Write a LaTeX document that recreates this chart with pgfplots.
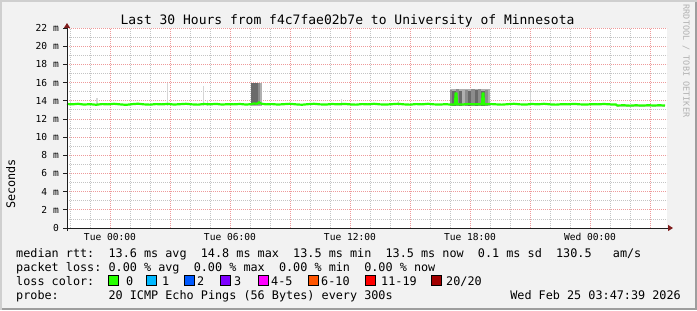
\documentclass[border=0pt]{standalone}
\usepackage{pgfplots}
\pgfplotsset{compat=1.18}
\usetikzlibrary{arrows.meta}
\usepackage{fontspec}
\setmainfont{DejaVu Sans Mono}
\definecolor{bgc}{HTML}{F2F2F2}
\definecolor{shadeA}{HTML}{CFCFCF}
\definecolor{shadeB}{HTML}{9E9E9E}
\definecolor{mgrid}{HTML}{EE9A9A}
\definecolor{mngrid}{HTML}{C4C4C4}
\definecolor{arrowc}{HTML}{801F1F}
\definecolor{axisc}{HTML}{1F1F1F}
\definecolor{rttgreen}{HTML}{26FF00}
\definecolor{smokeD}{HTML}{6A6A6A}
\definecolor{smokeM}{HTML}{8C8C8C}
\definecolor{smokeL}{HTML}{B0B0B0}
\definecolor{smokeXL}{HTML}{D6D6D6}
\definecolor{lc0}{HTML}{26FF00}
\definecolor{lc1}{HTML}{00B8FF}
\definecolor{lc2}{HTML}{0059FF}
\definecolor{lc3}{HTML}{7E00FF}
\definecolor{lc4}{HTML}{FF00FF}
\definecolor{lc6}{HTML}{FF5500}
\definecolor{lc11}{HTML}{FF0000}
\definecolor{lc20}{HTML}{A10000}
\newcommand\ticfont{\fontsize{9.6bp}{11bp}\selectfont}
\newcommand\legfont{\fontsize{11.8bp}{14bp}\selectfont}
\newcommand\titfont{\fontsize{13bp}{15bp}\selectfont}
\newcommand\smoke[5]{\addplot[fill=#1,draw=none,forget plot] coordinates {(#2,#4)(#2,#5)(#3,#5)(#3,#4)};}
\begin{document}
\begin{tikzpicture}[x=1bp,y=1bp]
\path[use as bounding box, fill=bgc] (0,0) rectangle (697,310);
\fill[shadeA] (0,0) rectangle (2,310);
\fill[shadeA] (0,308) rectangle (697,310);
\fill[shadeB] (695,0) rectangle (697,308);
\fill[shadeB] (2,0) rectangle (697,2);
\node[anchor=base, inner sep=0pt, font=\titfont] at (347.5,286) {Last 30 Hours from f4c7fae02b7e to University of Minnesota};
\node[anchor=base, inner sep=0pt, font=\legfont, rotate=90] at (15,126) {Seconds};
\node[anchor=center, inner sep=0pt, font=\fontsize{8.5bp}{10bp}\selectfont, text=black!30, rotate=-90] at (686,249) {RRDTOOL / TOBI OETIKER};
\begin{axis}[
  at={(67bp,82bp)}, anchor=south west, scale only axis,
  width=600bp, height=200bp,
  xmin=-2.15, xmax=27.85, ymin=0, ymax=22,
  clip=false,
  axis background/.style={fill=white},
  axis line style={draw=none},
  xtick={0,3,...,27},
  xticklabels={Tue 00:00,,Tue 06:00,,Tue 12:00,,Tue 18:00,,Wed 00:00,},
  minor xtick={-2,-1,1,2,4,5,7,8,10,11,13,14,16,17,19,20,22,23,25,26},
  ytick={0,2,...,22},
  yticklabels={0,2 m,4 m,6 m,8 m,10 m,12 m,14 m,16 m,18 m,20 m,22 m},
  minor ytick={1,3,...,21},
  grid=both,
  major grid style={mgrid, dash pattern=on 1bp off 1bp, line width=0.8bp},
  minor grid style={mngrid, dash pattern=on 1bp off 1bp, line width=0.8bp},
  xtick style={draw=none},
  minor tick style={draw=none},
  ytick style={axisc, line width=0.8bp},
  tick align=outside, ytick pos=left, major tick length=4bp,
  xticklabel style={font=\ticfont, anchor=base, inner sep=0pt, yshift=-8bp},
  yticklabel style={font=\ticfont, anchor=east, inner sep=0pt, xshift=-4bp},
]
% light smoke spikes
\smoke{smokeXL}{-2.02}{-1.97}{13.45}{14.2}
\smoke{smokeXL}{-0.68}{-0.62}{13.45}{14.25}
\smoke{smokeXL}{2.83}{2.88}{13.45}{16.0}
\smoke{smokeXL}{4.63}{4.68}{13.45}{15.65}
\smoke{smokeXL}{4.83}{4.9}{13.45}{14.1}
\smoke{smokeXL}{11.55}{11.6}{13.45}{14.15}
\smoke{smokeXL}{14.4}{14.45}{13.45}{14.0}
\smoke{smokeXL}{20.98}{21.03}{13.45}{15.2}
\smoke{smokeXL}{21.98}{22.03}{13.45}{14.3}
\smoke{smokeXL}{25.35}{27.75}{13.28}{13.55}
% block near 07:00
\smoke{smokeL}{7.03}{7.6}{13.45}{16.0}
\smoke{smokeD}{7.06}{7.42}{13.5}{15.95}
\smoke{smokeM}{7.42}{7.48}{13.5}{15.9}
% block 17:00 - 19:00
\smoke{smokeL}{17.0}{19.0}{13.45}{15.3}
\smoke{smokeM}{17.0}{17.1}{13.45}{15.2}
\smoke{smokeD}{17.1}{17.3}{13.45}{15.1}
\smoke{smokeM}{17.3}{17.45}{13.45}{15.25}
\smoke{smokeD}{17.45}{17.6}{13.45}{15.1}
\smoke{smokeM}{17.75}{17.9}{13.45}{15.2}
\smoke{smokeD}{17.9}{18.05}{13.45}{15.1}
\smoke{smokeM}{18.05}{18.25}{13.45}{15.25}
\smoke{smokeD}{18.25}{18.4}{13.45}{15.15}
\smoke{smokeM}{18.4}{18.55}{13.45}{15.25}
\smoke{smokeD}{18.55}{18.75}{13.45}{15.1}
\smoke{smokeM}{18.75}{18.9}{13.45}{15.2}
% median rtt
\addplot[rttgreen, line width=2.2bp, mark=none] coordinates {
(-2.15,13.64)(-1.9,13.6)(-1.6,13.66)(-1.3,13.58)(-1.0,13.62)(-0.7,13.56)(-0.4,13.63)(-0.1,13.6)
(0.2,13.66)(0.5,13.6)(0.8,13.55)(1.1,13.62)(1.4,13.67)(1.7,13.6)(2.0,13.57)(2.3,13.63)(2.6,13.6)
(2.9,13.65)(3.2,13.58)(3.5,13.62)(3.8,13.66)(4.1,13.6)(4.4,13.57)(4.7,13.64)(5.0,13.6)(5.3,13.65)
(5.6,13.58)(5.9,13.62)(6.2,13.6)(6.5,13.64)(6.8,13.58)(7.05,13.62)(7.2,13.7)(7.35,13.66)(7.45,13.82)
(7.55,13.68)(7.8,13.6)(8.1,13.63)(8.4,13.58)(8.7,13.62)(9.0,13.66)(9.3,13.6)(9.6,13.56)(9.9,13.62)
(10.2,13.66)(10.5,13.6)(10.8,13.58)(11.1,13.64)(11.4,13.6)(11.7,13.65)(12.0,13.6)(12.3,13.57)
(12.6,13.63)(12.9,13.6)(13.2,13.66)(13.5,13.6)(13.8,13.58)(14.1,13.62)(14.4,13.66)(14.7,13.6)
(15.0,13.57)(15.3,13.63)(15.6,13.6)(15.9,13.66)(16.2,13.6)(16.5,13.58)(16.8,13.62)(17.0,13.58)
(17.25,13.6)(17.28,14.8)(17.32,14.8)(17.35,13.62)(17.6,13.58)(17.9,13.64)(18.2,13.6)(18.6,13.62)
(18.63,14.8)(18.67,14.8)(18.7,13.6)(19.0,13.64)(19.3,13.6)(19.6,13.57)(19.9,13.62)(20.2,13.66)
(20.5,13.6)(20.8,13.58)(21.1,13.64)(21.4,13.6)(21.7,13.66)(22.0,13.6)(22.3,13.57)(22.6,13.62)
(22.9,13.6)(23.2,13.65)(23.5,13.6)(23.8,13.58)(24.1,13.62)(24.4,13.6)(24.7,13.64)(25.0,13.6)
(25.3,13.58)(25.35,13.48)(25.7,13.5)(26.0,13.46)(26.3,13.5)(26.6,13.47)(26.9,13.5)(27.2,13.48)
(27.5,13.5)(27.75,13.47)
};
% axes with arrows
\draw[axisc, line width=1bp, -{Triangle[length=5bp,width=6bp,color=arrowc]}]
  ([yshift=-3bp]axis cs:-2.15,0) -- ([yshift=5bp]axis cs:-2.15,22);
\draw[axisc, line width=1bp, -{Triangle[length=5bp,width=6bp,color=arrowc]}]
  ([xshift=-3bp]axis cs:-2.15,0) -- ([xshift=6bp]axis cs:27.85,0);
\end{axis}
% legend
\begin{scope}[every node/.style={anchor=base west, inner sep=0pt, font=\legfont}]
\node at (16,52.5) {median~rtt:~~13.6~ms~avg~~14.8~ms~max~~13.5~ms~min~~13.5~ms~now~~0.1~ms~sd~~130.5~~~am/s};
\node at (16,38.5) {packet~loss:~0.00~\%~avg~~0.00~\%~max~~0.00~\%~min~~0.00~\%~now};
\node at (16,24.5) {loss~color:};
\node at (16,10.5) {probe:~~~~~~~20~ICMP~Echo~Pings~(56~Bytes)~every~300s};
\node[anchor=base east] at (681,10.5) {Wed~Feb~25~03:47:39~2026};
\node at (126,24.5) {0};
\node at (162,24.5) {1};
\node at (197,24.5) {2};
\node at (234,24.5) {3};
\node at (271,24.5) {4-5};
\node at (321,24.5) {6-10};
\node at (381,24.5) {11-19};
\node at (446,24.5) {20/20};
\end{scope}
\foreach \bx/\bc in {108/lc0,146/lc1,184/lc2,220/lc3,258/lc4,308/lc6,365/lc11,431/lc20}{
  \draw[fill=\bc, draw=black, line width=1bp] (\bx+0.5,24.5) rectangle (\bx+10.5,34.5);
}
\end{tikzpicture}
\end{document}
